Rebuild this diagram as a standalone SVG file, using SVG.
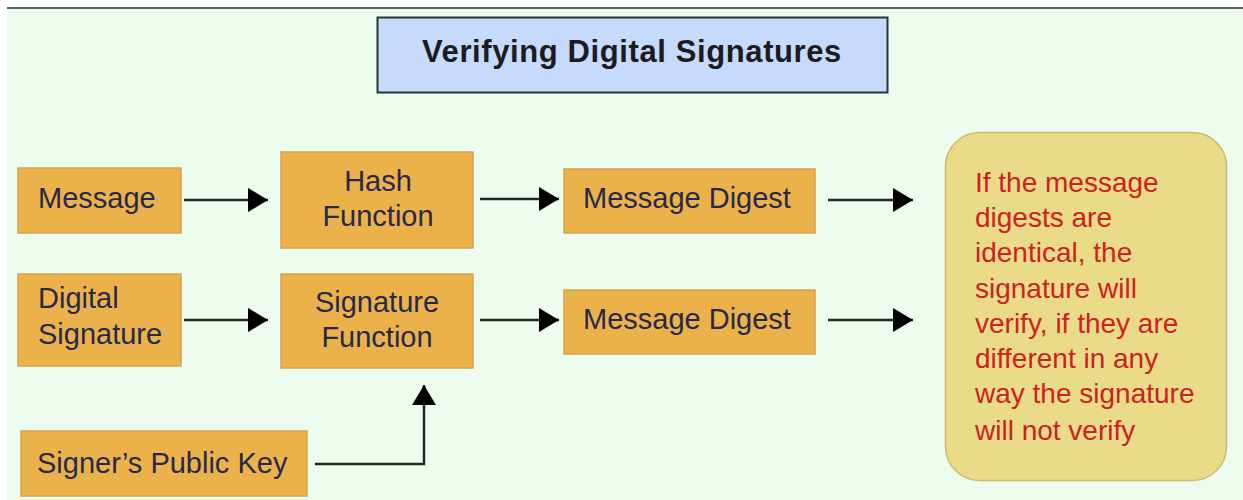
<svg xmlns="http://www.w3.org/2000/svg" width="1243" height="500" viewBox="0 0 1243 500">
<style>
.box{fill:#ebb24c;stroke:#d6a24a;stroke-width:1.5}
.lbl{font-family:"Liberation Sans",Arial,sans-serif;font-size:29px;fill:#28294a}
.note{font-family:"Liberation Sans",Arial,sans-serif;font-size:28px;fill:#cc2222}
.conn{stroke:#1e2a28;stroke-width:2.5;fill:none}
</style>
<defs>
<marker id="ah" viewBox="0 0 20 24" refX="20" refY="12" markerWidth="20" markerHeight="24" markerUnits="userSpaceOnUse" orient="auto">
<path d="M0,0 L20,12 L0,24 Z" fill="#000"/>
</marker>
</defs>
<rect x="0" y="0" width="1243" height="500" fill="#ffffff"/>
<rect x="7" y="8" width="1236" height="492" fill="#ecfdf0"/>
<line x1="7" y1="8" x2="1243" y2="8" stroke="#5a6260" stroke-width="2"/>
<g id="title">
<rect x="377.5" y="17.5" width="510" height="75" fill="#c6dafc" stroke="#2e3335" stroke-width="2"/>
<text x="632" y="62" text-anchor="middle" font-family="'Liberation Sans',Arial,sans-serif" font-weight="bold" font-size="31" letter-spacing="0.6" fill="#1e1a22">Verifying Digital Signatures</text>
</g>
<g id="message">
<rect class="box" x="18" y="168" width="163" height="65"/>
<text class="lbl" x="38" y="208">Message</text>
</g>
<g id="hash-function">
<rect class="box" x="281" y="152" width="192" height="96"/>
<text class="lbl" x="378" y="191" text-anchor="middle">Hash</text>
<text class="lbl" x="378" y="226" text-anchor="middle">Function</text>
</g>
<g id="message-digest-1">
<rect class="box" x="564" y="169" width="251" height="64"/>
<text class="lbl" x="583" y="208">Message Digest</text>
</g>
<g id="digital-signature">
<rect class="box" x="18" y="274" width="163" height="92"/>
<text class="lbl" x="38" y="308">Digital</text>
<text class="lbl" x="38" y="344">Signature</text>
</g>
<g id="signature-function">
<rect class="box" x="281" y="274" width="192" height="94"/>
<text class="lbl" x="377" y="312" text-anchor="middle">Signature</text>
<text class="lbl" x="377" y="347" text-anchor="middle">Function</text>
</g>
<g id="message-digest-2">
<rect class="box" x="564" y="290" width="251" height="64"/>
<text class="lbl" x="583" y="329">Message Digest</text>
</g>
<g id="public-key">
<rect class="box" x="21" y="431" width="286" height="65"/>
<text class="lbl" x="37" y="473">Signer’s Public Key</text>
</g>
<g id="result">
<rect x="945.5" y="132.5" width="281" height="348" rx="34" ry="34" fill="#eadb89" stroke="#cdb96e" stroke-width="1.5"/>
<text class="note" x="975" y="192">If the message</text>
<text class="note" x="975" y="227">digests are</text>
<text class="note" x="975" y="262">identical, the</text>
<text class="note" x="975" y="298">signature will</text>
<text class="note" x="975" y="333">verify, if they are</text>
<text class="note" x="975" y="368">different in any</text>
<text class="note" x="975" y="403">way the signature</text>
<text class="note" x="975" y="440">will not verify</text>
</g>
<g id="connectors">
<line class="conn" x1="184" y1="200" x2="268" y2="200" marker-end="url(#ah)"/>
<line class="conn" x1="480" y1="199" x2="559" y2="199" marker-end="url(#ah)"/>
<line class="conn" x1="828" y1="200" x2="913" y2="200" marker-end="url(#ah)"/>
<line class="conn" x1="184" y1="320" x2="268" y2="320" marker-end="url(#ah)"/>
<line class="conn" x1="480" y1="320" x2="559" y2="320" marker-end="url(#ah)"/>
<line class="conn" x1="828" y1="320" x2="913" y2="320" marker-end="url(#ah)"/>
<path class="conn" d="M315,464 H424 V385" stroke="#34443e" marker-end="url(#ah)"/>
</g>
</svg>
